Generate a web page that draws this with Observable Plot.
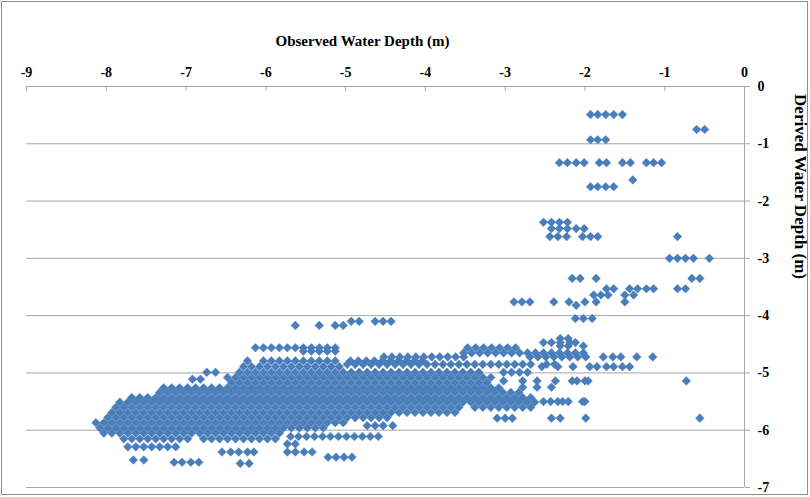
<!DOCTYPE html>
<html><head><meta charset="utf-8">
<script src="https://cdn.jsdelivr.net/npm/d3@7"></script>
<script src="https://cdn.jsdelivr.net/npm/@observablehq/plot@0.6"></script>
<style>
html,body{margin:0;padding:0;background:#fff;}
#chart{width:810px;height:497px;}
</style></head><body><div id="chart"></div>
<script>
// Axis ticks and titles
const xTicks = [-9, -8, -7, -6, -5, -4, -3, -2, -1, 0];
const yTicks = [0, -1, -2, -3, -4, -5, -6, -7];
const xTitle = "Observed Water Depth (m)";
const yTitle = "Derived Water Depth (m)";

// Derived water depth (m) of each row of points
const derivedLevels = [
  -0.49, -0.75, -0.93, -1.33, -1.63, -1.75, -2.37, -2.48, -2.62, -3.00,
  -3.35, -3.53, -3.64, -3.76, -3.82, -4.05, -4.10, -4.17, -4.40, -4.47,
  -4.53, -4.56, -4.62, -4.65, -4.72, -4.79, -4.85, -4.89, -4.99, -5.08,
  -5.11, -5.14, -5.17, -5.25, -5.26, -5.34, -5.43, -5.50, -5.51, -5.60,
  -5.69, -5.78, -5.79, -5.87, -5.92, -5.96, -6.05, -6.11, -6.15, -6.24,
  -6.29, -6.38, -6.47, -6.52, -6.56, -6.58
];

// Observed water depth (m) of the points on each row
const observedByLevel = [
  [-1.93,-1.84,-1.74,-1.64,-1.53],
  [-0.60,-0.50],
  [-1.93,-1.84,-1.74],
  [-2.32,-2.22,-2.11,-2.01,-1.82,-1.73,-1.53,-1.43,-1.23,-1.14,-1.04],
  [-1.40],
  [-1.93,-1.84,-1.74,-1.64],
  [-2.52,-2.42,-2.32,-2.22],
  [-2.42,-2.32,-2.22,-2.11,-2.01],
  [-2.44,-2.34,-2.23,-2.03,-1.93,-1.84,-0.84],
  [-0.94,-0.84,-0.74,-0.64,-0.44],
  [-2.16,-2.06,-1.86,-0.66,-0.56],
  [-1.73,-1.64,-1.44,-1.34,-1.23,-1.14,-0.84,-0.74],
  [-1.89,-1.80,-1.71,-1.50,-1.39],
  [-2.89,-2.79,-2.69,-2.39,-2.20,-2.00,-1.86,-1.50],
  [-2.11],
  [-2.12,-2.02,-1.91],
  [-4.93,-4.83,-4.63,-4.53,-4.43],
  [-5.63,-5.33,-5.13,-5.03],
  [-2.31,-2.21],
  [-2.52,-2.42,-2.31,-2.19,-2.12],
  [-2.31,-2.21,-2.02],
  [-6.13,-6.03,-5.93,-5.83,-5.73,-5.63,-5.53,-5.43,-5.33,-5.23,-5.13,-3.47,-3.37,-3.27,-3.17,-3.07,-2.97,-2.87],
  [-5.53,-5.43,-5.33,-5.23,-5.13],
  [-3.52,-3.42,-3.32,-3.22,-3.12,-3.02,-2.92,-2.82,-2.72,-2.62,-2.52,-2.42,-2.32,-2.22,-2.12,-2.02],
  [-4.52,-4.42,-4.32,-4.22,-4.12,-4.02,-3.92,-3.82,-3.72,-3.62,-3.52,-2.69,-2.59,-2.49,-2.39,-2.29,-2.19,-2.09,-1.99,-1.77,-1.65,-1.55,-1.35,-1.15],
  [-6.23,-6.03,-5.93,-5.83,-5.73,-5.63,-5.53,-5.43,-5.33,-5.23,-5.13,-4.94,-4.84,-4.74,-4.64,-4.54,-4.44,-4.34,-4.24,-4.14,-4.04],
  [-4.98,-4.88,-4.78,-4.68,-4.58,-4.48,-4.38,-4.28,-4.18,-4.08,-3.98,-3.88,-3.78,-3.68,-3.58,-3.48,-3.38,-3.28,-3.18,-3.08,-2.98,-2.88,-2.78,-2.68,-2.48,-2.38],
  [-6.28,-6.18,-6.08,-5.98,-5.88,-5.78,-5.68,-5.58,-5.48,-5.38,-5.28,-5.18,-5.08,-2.54,-2.34,-2.15,-1.94,-1.85,-1.73,-1.64,-1.53,-1.44],
  [-6.74,-6.63,-6.33,-6.23,-6.13,-6.03,-5.93,-5.83,-5.73,-5.63,-5.53,-5.43,-5.33,-5.23,-5.13,-5.03,-4.93,-4.83,-4.73,-4.63,-4.53,-4.43,-4.33,-4.23,-4.13,-4.03,-3.93,-3.83,-3.73,-3.63,-3.53,-3.43,-3.33,-3.02,-2.92,-2.82,-2.72],
  [-6.48,-6.38,-6.28,-6.18,-6.08,-5.98,-5.88,-5.78,-5.68,-5.58,-5.48,-5.38,-5.28,-5.18,-5.08,-4.98,-4.88,-4.78,-4.68,-4.58,-4.48,-4.38,-4.28,-4.18,-4.08,-3.98,-3.88,-3.78,-3.68,-3.58,-3.48,-3.38,-3.28,-3.18],
  [-6.92,-6.82],
  [-3.02,-2.78,-2.60,-2.37,-2.16,-2.10,-2.00,-1.96,-0.73],
  [-6.43,-6.33,-6.23,-6.13,-6.03,-5.93,-5.83,-5.73,-5.63,-5.53,-5.43,-5.33,-5.23,-5.13,-5.03,-4.93,-4.83,-4.73,-4.63,-4.53,-4.43,-4.33,-4.23,-4.13,-4.03,-3.93,-3.83,-3.73,-3.63,-3.53,-3.43,-3.33,-3.23],
  [-2.78,-2.60,-2.42],
  [-7.28,-7.18,-7.08,-6.98,-6.88,-6.78,-6.68,-6.58,-6.48,-6.38,-6.28,-6.18,-6.08,-5.98,-5.88,-5.78,-5.68,-5.58,-5.48,-5.38,-5.28,-5.18,-5.08,-4.98,-4.88,-4.78,-4.68,-4.58,-4.48,-4.38,-4.28,-4.18,-4.08,-3.98,-3.88,-3.78,-3.68,-3.58,-3.48,-3.38,-3.28,-3.18,-3.08],
  [-7.33,-7.23,-7.13,-7.03,-6.93,-6.83,-6.73,-6.63,-6.53,-6.43,-6.33,-6.23,-6.13,-6.03,-5.93,-5.83,-5.73,-5.63,-5.53,-5.43,-5.33,-5.23,-5.13,-5.03,-4.93,-4.83,-4.73,-4.63,-4.53,-4.43,-4.33,-4.23,-4.13,-4.03,-3.93,-3.83,-3.73,-3.63,-3.53,-3.43,-3.33,-3.23,-3.13,-3.03,-2.93,-2.83],
  [-7.68,-7.58,-7.48,-7.38,-7.28,-7.18,-7.08,-6.98,-6.88,-6.78,-6.68,-6.58,-6.48,-6.38,-6.28,-6.18,-6.08,-5.98,-5.88,-5.78,-5.68,-5.58,-5.48,-5.38,-5.28,-5.18,-5.08,-4.98,-4.88,-4.78,-4.68,-4.58,-4.48,-4.38,-4.28,-4.18,-4.08,-3.98,-3.88,-3.78,-3.68,-3.58,-3.48,-3.38,-3.28,-3.18,-3.08,-2.98,-2.88,-2.78,-2.68],
  [-2.52,-2.43,-2.34,-2.28,-2.21,-2.03,-2.00],
  [-7.83,-7.73,-7.63,-7.53,-7.43,-7.33,-7.23,-7.13,-7.03,-6.93,-6.83,-6.73,-6.63,-6.53,-6.43,-6.33,-6.23,-6.13,-6.03,-5.93,-5.83,-5.73,-5.63,-5.53,-5.43,-5.33,-5.23,-5.13,-5.03,-4.93,-4.83,-4.73,-4.63,-4.53,-4.43,-4.33,-4.23,-4.13,-4.03,-3.93,-3.83,-3.73,-3.63,-3.53,-3.43,-3.33,-3.23,-3.13,-3.03,-2.93,-2.83,-2.73,-2.63],
  [-7.88,-7.78,-7.68,-7.58,-7.48,-7.38,-7.28,-7.18,-7.08,-6.98,-6.88,-6.78,-6.68,-6.58,-6.48,-6.38,-6.28,-6.18,-6.08,-5.98,-5.88,-5.78,-5.68,-5.58,-5.48,-5.38,-5.28,-5.18,-5.08,-4.98,-4.88,-4.78,-4.68,-4.58,-4.48,-4.38,-4.28,-4.18,-4.08,-3.98,-3.88,-3.78,-3.68,-3.58,-3.38,-3.28,-3.18,-3.08,-2.98,-2.88,-2.78,-2.68],
  [-7.93,-7.83,-7.73,-7.63,-7.53,-7.43,-7.33,-7.23,-7.13,-7.03,-6.93,-6.83,-6.73,-6.63,-6.53,-6.43,-6.33,-6.23,-6.13,-6.03,-5.93,-5.83,-5.73,-5.63,-5.53,-5.43,-5.33,-5.23,-5.13,-5.03,-4.93,-4.83,-4.73,-4.63,-4.53,-4.43,-4.33,-4.23,-4.13,-4.03,-3.93,-3.83,-3.73,-3.63],
  [-7.98,-7.88,-7.78,-7.68,-7.58,-7.48,-7.38,-7.28,-7.18,-7.08,-6.98,-6.88,-6.78,-6.68,-6.58,-6.48,-6.38,-6.28,-6.18,-6.08,-5.98,-5.88,-5.78,-5.68,-5.58,-5.48,-5.38,-5.28,-5.18,-5.08,-4.98,-4.88,-4.78,-4.68,-4.58,-4.48],
  [-3.10,-3.00,-2.91,-2.42,-2.31,-1.99,-0.56],
  [-8.13,-8.03,-7.93,-7.83,-7.73,-7.63,-7.53,-7.43,-7.33,-7.23,-7.13,-7.03,-6.93,-6.83,-6.73,-6.63,-6.53,-6.43,-6.33,-6.23,-6.13,-6.03,-5.93,-5.83,-5.73,-5.63,-5.53,-5.43,-5.33,-5.23,-5.13,-5.03],
  [-4.73,-4.63,-4.53,-4.41],
  [-8.08,-7.98,-7.88,-7.78,-7.68,-7.58,-7.48,-7.38,-7.28,-7.18,-7.08,-6.98,-6.88,-6.78,-6.68,-6.58,-6.48,-6.38,-6.28,-6.18,-6.08,-5.98,-5.88,-5.78,-5.68,-5.58,-5.48,-5.38,-5.28],
  [-8.03,-7.93,-7.83,-7.73,-7.63,-7.53,-7.43,-7.33,-7.23,-7.13,-7.03,-6.93,-6.83,-6.73,-6.63,-6.53,-6.43,-6.33,-6.23,-6.13,-6.03,-5.93,-5.83],
  [-5.69,-5.59,-5.49,-5.39,-5.29,-5.19,-5.09,-4.99,-4.89,-4.79,-4.69,-4.59],
  [-7.78,-7.68,-7.58,-7.48,-7.38,-7.28,-7.18,-7.08,-6.98,-6.78,-6.68,-6.58,-6.48,-6.38,-6.28,-6.18,-6.08,-5.98,-5.88],
  [-5.73,-5.63],
  [-7.73,-7.63,-7.53,-7.43,-7.33,-7.23,-7.13],
  [-6.55,-6.44,-6.34,-6.23,-6.15,-5.73,-5.63,-5.52,-5.42],
  [-5.22,-5.12,-5.02,-4.92],
  [-7.66,-7.53],
  [-7.15,-7.05,-6.94,-6.84],
  [-6.32,-6.21]
];

const points = derivedLevels.flatMap((d, i) =>
  observedByLevel[i].map(o => ({observed: o, derived: d})));

const serif = "'Liberation Serif', 'Times New Roman', Times, serif";
const fmt = d => String(d);

const chart = Plot.plot({
  width: 810,
  height: 497,
  marginLeft: 26,
  marginRight: 66,
  marginTop: 86,
  marginBottom: 10,
  style: {fontFamily: serif, fontWeight: "bold", fontSize: "14px", color: "#000", background: "#fff", overflow: "visible"},
  x: {domain: [-9, 0]},
  y: {domain: [-7, 0]},
  marks: [
    Plot.gridY(yTicks.filter(d => d !== 0), {stroke: "#a6a6a6", strokeOpacity: 1, strokeWidth: 1}),
    Plot.ruleY([0], {stroke: "#a6a6a6", strokeWidth: 1}),
    Plot.ruleX([0], {stroke: "#a6a6a6", strokeWidth: 1}),
    Plot.ruleX(xTicks, {y1: 0, y2: 0, insetBottom: -5, stroke: "#a6a6a6"}),
    Plot.axisX({anchor: "top", ticks: xTicks, tickFormat: fmt, tickSize: 0, tickPadding: 10, label: null, fontWeight: "bold"}),
    Plot.axisY({anchor: "right", ticks: yTicks, tickFormat: fmt, tickSize: 5, tickPadding: 8, label: null, stroke: "#a6a6a6", fontWeight: "bold"}),
    Plot.dot(points, {x: "observed", y: "derived", symbol: "diamond2", r: 3.9, fill: "#4a7ebb", stroke: "#4a7ebb", strokeWidth: 0.5}),
    Plot.text([xTitle], {frameAnchor: "top", dx: -23, dy: -51, fontSize: 15, fontWeight: "bold", fontFamily: serif, fill: "#000"}),
    Plot.text([yTitle], {frameAnchor: "right", dx: 56, dy: -8, rotate: 90, fontSize: 17, fontWeight: "bold", fontFamily: serif, fill: "#000"})
  ]
});

d3.select(chart).append("rect")
  .attr("x", 1.5).attr("y", 1.5).attr("width", 806).attr("height", 493)
  .attr("fill", "none").attr("stroke", "#8c8c8c").attr("stroke-width", 1);

document.getElementById("chart").appendChild(chart);
</script>
</body></html>
